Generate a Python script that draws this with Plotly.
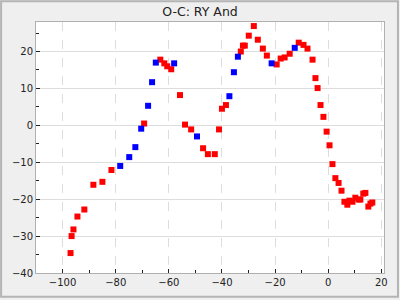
import plotly.graph_objects as go

red_x = [-97.0, -96.6, -95.9, -94.4, -91.8, -88.4, -85.0, -81.6, -69.3, -63.2, -61.7, -60.6, -59.1,
         -55.8, -53.9, -51.6, -47.1, -45.3, -42.7, -41.1, -40.0, -38.5, -32.9, -32.1, -31.4, -29.9,
         -28.0, -26.5, -24.6, -23.1, -19.4, -17.9, -16.4, -14.5, -11.1, -9.3, -7.8, -5.9, -4.8, -4.0,
         -2.9, -1.8, -0.6, 0.5, 1.6, 2.7, 3.9, 5.0, 6.1, 7.2, 8.0, 9.1, 10.2, 11.4, 12.1, 13.2, 14.0,
         15.1, 15.9, 16.6]
red_y = [-34.6, -30.0, -28.2, -24.7, -22.8, -16.1, -15.3, -12.1, 0.5, 17.8, 16.8, 16.0, 15.2,
         8.2, 0.2, -1.1, -6.2, -7.8, -7.8, -1.1, 4.5, 5.5, 20.0, 21.6, 21.6, 24.3,
         26.9, 23.2, 20.8, 18.9, 16.5, 18.1, 18.4, 19.4, 22.4, 21.8, 20.8, 17.8, 12.8, 10.1,
         5.5, 2.3, -1.7, -5.4, -10.5, -14.3, -15.6, -17.7, -20.7, -21.5, -20.4, -20.7, -19.6, -20.1, -20.1, -18.5, -18.3,
         -22.0, -21.2, -20.9]

blue_x = [-78.3, -74.9, -72.6, -70.4, -67.8, -66.3, -64.9, -58.0, -49.4, -37.2, -35.5, -34.0, -21.3, -12.6]
blue_y = [-11.0, -8.6, -5.9, -0.9, 5.3, 11.7, 17.0, 16.8, -3.0, 7.9, 14.4, 18.6, 16.8, 21.0]

title_text = "O-C: RY And"

fig = go.Figure()
fig.add_trace(go.Scatter(x=red_x, y=red_y, mode="markers",
                         marker=dict(symbol="square", size=6, color="#ff0000", line=dict(width=0)),
                         showlegend=False))
fig.add_trace(go.Scatter(x=blue_x, y=blue_y, mode="markers",
                         marker=dict(symbol="square", size=6, color="#0000ff", line=dict(width=0)),
                         showlegend=False))

L, R, T, B = 36, 15, 22, 25
W, H = 400, 300
pw, ph = W - L - R, H - T - B

fig.update_layout(
    width=W, height=H,
    margin=dict(l=L, r=R, t=T, b=B),
    paper_bgcolor="#efefef",
    plot_bgcolor="#ffffff",
    font=dict(family="DejaVu Sans", size=10, color="#222222"),
    title=dict(text=title_text, x=0.5, xanchor="center", y=1 - 12 / H, yanchor="middle",
               font=dict(family="DejaVu Sans", size=12.5, color="#222222")),
    xaxis=dict(range=[-110, 21], dtick=20, tick0=0, ticks="inside", ticklen=4, tickcolor="#222222",
               showgrid=True, gridcolor="#dddddd", griddash="dash", gridwidth=1,
               zeroline=False, showline=True, linecolor="#b0b0b0", linewidth=1, mirror=True,
               minor=dict(dtick=10, ticks="inside", ticklen=3, tickcolor="#222222", showgrid=False)),
    yaxis=dict(range=[-40, 28], dtick=10, tick0=0, ticks="inside", ticklen=4, tickcolor="#222222",
               showgrid=True, gridcolor="#dddddd", gridwidth=1,
               zeroline=False, showline=True, linecolor="#b0b0b0", linewidth=1, mirror=True,
               minor=dict(dtick=5, ticks="inside", ticklen=3, tickcolor="#222222", showgrid=False)),
)

fig.add_shape(type="rect", xref="paper", yref="paper",
              x0=(-L + 1) / pw, x1=(pw + R - 1) / pw, y0=(-B + 1) / ph, y1=(ph + T - 1) / ph,
              line=dict(color="#b4b4b4", width=2), fillcolor="rgba(0,0,0,0)", layer="above")

fig.write_html("out.html")
